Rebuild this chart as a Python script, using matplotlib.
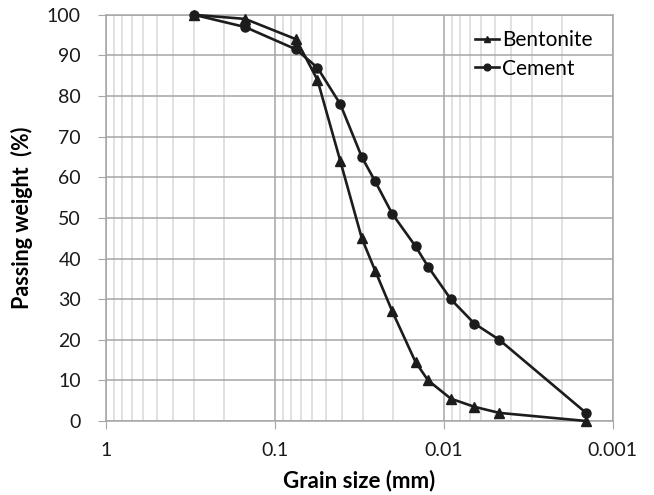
import matplotlib
matplotlib.use('Agg')
import matplotlib.pyplot as plt
from matplotlib.ticker import FixedLocator, LogLocator, NullFormatter

# grain sizes (mm) shared by both samples
grain_size = [0.3, 0.15, 0.075, 0.056, 0.041, 0.0306, 0.0255, 0.0202,
              0.0147, 0.0124, 0.0091, 0.0066, 0.0047, 0.00144]
bentonite = [100, 99, 94, 84, 64, 45, 37, 27, 14.5, 10, 5.5, 3.5, 2, 0]
cement = [100, 97, 91.5, 87, 78, 65, 59, 51, 43, 38, 30, 24, 20, 2]

x_ticks = [1, 0.1, 0.01, 0.001]
x_tick_labels = ['1', '0.1', '0.01', '0.001']

plt.rcParams['font.family'] = ['Lato', 'DejaVu Sans']

fig = plt.figure(figsize=(6.54, 4.95), dpi=100)
ax = fig.add_axes([0.162, 0.1495, 0.775, 0.8205])

line_color = '#1c1c1c'
ax.plot(grain_size, bentonite, color=line_color, lw=1.9, marker='^', ms=6.5,
        label='Bentonite', zorder=3, clip_on=False)
ax.plot(grain_size, cement, color=line_color, lw=1.9, marker='o', ms=6.5,
        label='Cement', zorder=3, clip_on=False)

ax.set_xscale('log')
ax.set_xlim(1, 0.001)
ax.set_ylim(0, 100)
ax.set_yticks(range(0, 101, 10))
ax.xaxis.set_major_locator(FixedLocator(x_ticks))
ax.set_xticklabels(x_tick_labels)
ax.xaxis.set_minor_locator(LogLocator(base=10, subs=range(2, 10)))
ax.xaxis.set_minor_formatter(NullFormatter())

ax.grid(which='major', color='#a6a6a6', lw=1.1)
ax.grid(which='minor', axis='x', color='#d9d9d9', lw=1.1)
ax.set_axisbelow(True)

for s in ax.spines.values():
    s.set_color('#a6a6a6')
    s.set_linewidth(1.1)

ax.tick_params(which='major', length=6, color='#a6a6a6', labelsize=14,
               labelcolor='#1a1a1a')
ax.tick_params(axis='x', which='major', pad=9)
ax.tick_params(axis='y', which='major', pad=12)
ax.tick_params(which='minor', length=0)

ax.set_xlabel('Grain size (mm)', fontsize=16, fontweight='bold', labelpad=8)
ax.set_ylabel('Passing weight  (%)', fontsize=15.5, fontweight='bold', labelpad=10)

ax.legend(loc='upper left', frameon=False, fontsize=15, handlelength=1.15,
          handletextpad=0.15, borderpad=0, borderaxespad=0, labelspacing=0.4,
          markerscale=0.75, bbox_to_anchor=(0.728, 0.962))

fig.savefig('out.png', dpi=100)
